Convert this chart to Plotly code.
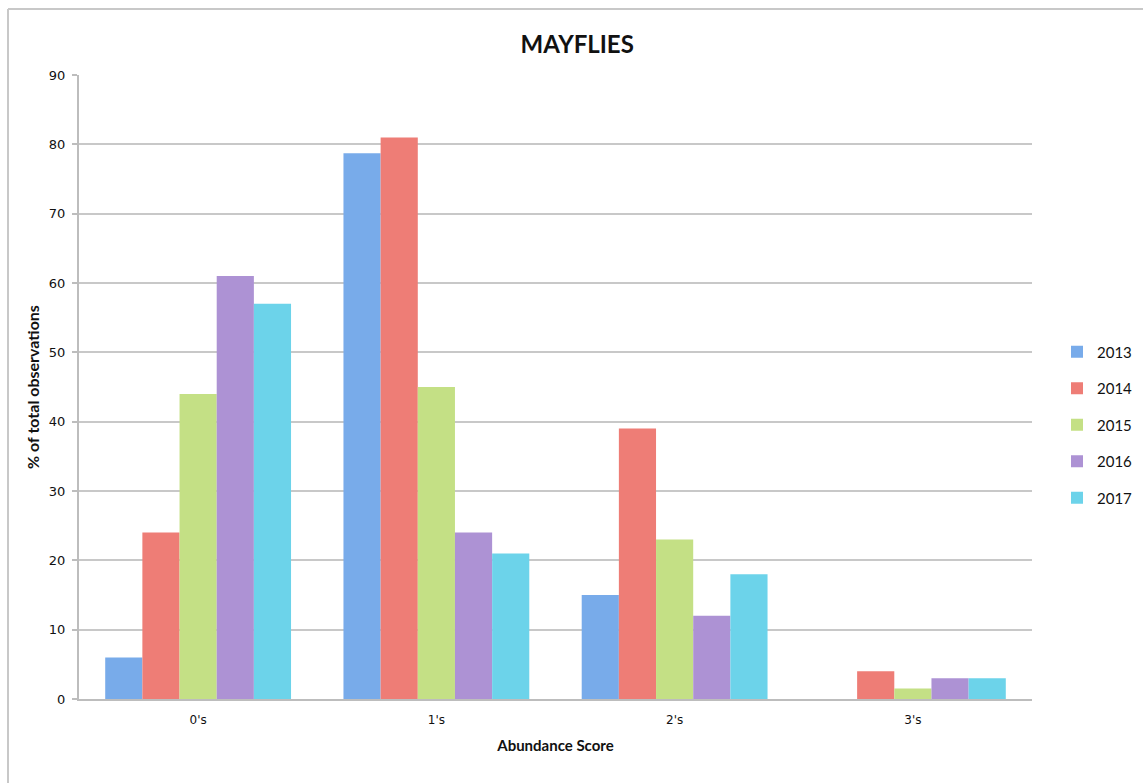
import plotly.graph_objects as go

categories = ["0's", "1's", "2's", "3's"]
years = ["2013", "2014", "2015", "2016", "2017"]
v2013 = [6, 78.7, 15, 0]
v2014 = [24, 81, 39, 4]
v2015 = [44, 45, 23, 1.5]
v2016 = [61, 24, 12, 3]
v2017 = [57, 21, 18, 3]
series = [v2013, v2014, v2015, v2016, v2017]
colors = ["#78abea", "#ee7d76", "#c4e085", "#ad92d4", "#6cd3ea"]
yticks = [0, 10, 20, 30, 40, 50, 60, 70, 80, 90]

fig = go.Figure()
for i, (yr, vals) in enumerate(zip(years, series)):
    fig.add_trace(go.Bar(
        x=categories, y=vals, name=yr,
        marker=dict(color=colors[i], line=dict(width=0)),
        legendgroup=yr,
    ))

W, H = 1143, 783
L, R, T, B = 79, 111, 75, 84
pw, ph = W - L - R, H - T - B

fig.update_layout(
    width=W, height=H, autosize=False,
    margin=dict(l=L, r=R, t=T, b=B, autoexpand=False),
    paper_bgcolor="white", plot_bgcolor="white",
    barmode="group", bargap=0.22, bargroupgap=0,
    font=dict(family="Lato, DejaVu Sans, sans-serif", color="#111"),
    title=dict(text="<b>MAYFLIES</b>", x=0.505, xanchor="center",
               y=1 - 45 / H, yanchor="middle",
               font=dict(size=24, family="Lato, sans-serif", color="#111")),
    legend=dict(x=(1057 - L) / pw, xanchor="left",
                y=(H - B - 425) / ph, yanchor="middle",
                font=dict(size=15, family="Lato, sans-serif", color="#111"),
                tracegroupgap=14, itemwidth=30, bgcolor="rgba(0,0,0,0)"),
    xaxis=dict(
        showline=True, linecolor="#bdbdbd", linewidth=2,
        ticks="", ticklabelstandoff=9,
        tickfont=dict(size=12, family="DejaVu Sans, sans-serif"),
        title=dict(text="<b>Abundance Score</b>", standoff=14,
                   font=dict(size=15, family="Lato, sans-serif")),
    ),
    yaxis=dict(
        range=[0, 90], tickvals=yticks,
        showline=True, linecolor="#bdbdbd", linewidth=2,
        ticks="outside", ticklen=5, tickcolor="#bdbdbd", tickwidth=2,
        ticklabelstandoff=4,
        showgrid=True, gridcolor="#c8c8c8", gridwidth=2,
        zeroline=False,
        tickfont=dict(size=13, family="DejaVu Sans, sans-serif"),
        title=dict(text="<b>% of total observations</b>", standoff=5,
                   font=dict(size=16, family="Lato, sans-serif")),
    ),
    showlegend=True,
)

# outer frame (top and left edges)
x0 = (8 - L) / pw
y0 = (H - B - 9) / ph
fig.add_shape(type="line", xref="paper", yref="paper",
              x0=x0, x1=(W - L) / pw, y0=y0, y1=y0,
              line=dict(color="#c8c8c8", width=2))
fig.add_shape(type="line", xref="paper", yref="paper",
              x0=x0, x1=x0, y0=y0, y1=-(B) / ph,
              line=dict(color="#c8c8c8", width=2))

fig.write_html(
    "out.html",
    config={"responsive": False, "displayModeBar": False},
    post_script="document.body.style.margin='0';document.body.style.overflow='hidden';",
)
